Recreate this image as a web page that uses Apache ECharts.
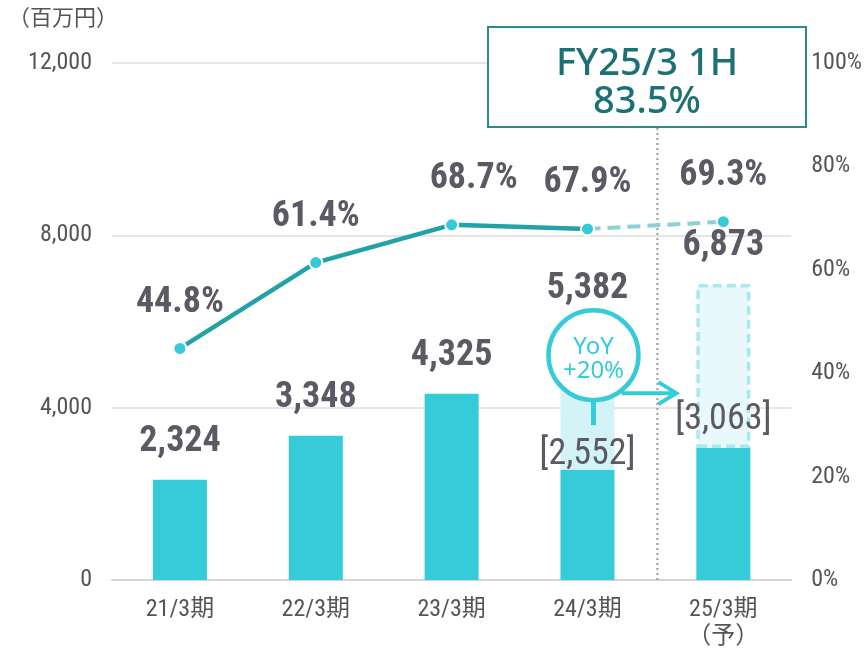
<!DOCTYPE html>
<html>
<head>
<meta charset="utf-8">
<script src="https://cdn.jsdelivr.net/npm/echarts@6/dist/echarts.min.js"></script>
<style>
  html, body { margin: 0; padding: 0; background: #fff; }
  #chart { width: 865px; height: 652px; }
</style>
</head>
<body>
<div id="chart"></div>
<script>
// data
const categories = ['21/3期', '22/3期', '23/3期', '24/3期', '25/3期\n（予）'];
const baseSales = [2324, 3348, 4325, 2552, 3063];     // solid bars (百万円)
const totalSales = [null, null, null, 5382, 6873];    // light / forecast bar tops
const ratioActual = [44.8, 61.4, 68.7, 67.9, null];   // %
const ratioForecast = [null, null, null, 67.9, 69.3];

const NUM_FONT = '"Roboto Condensed", "Noto Sans CJK JP", sans-serif';
const TXT = '#5b5964';
const CYAN = '#36cbd8';

const fmt = v => Number(v).toLocaleString('en-US');

const chart = echarts.init(document.getElementById('chart'));

// solid bar data with labels
const baseData = baseSales.map((v, i) => {
  if (totalSales[i] == null) {
    return { value: v, label: { show: true, position: 'top', distance: 20, formatter: fmt(v) } };
  }
  return {
    value: v,
    label: {
      show: true, position: 'top', distance: i === 3 ? -3 : 10,
      formatter: '[' + fmt(v) + ']', fontWeight: 'normal'
    }
  };
});

// upper part of the bars (total - base)
const upperData = totalSales.map((t, i) => {
  if (t == null) return null;
  const item = {
    value: t - baseSales[i],
    label: { show: true, position: 'top', distance: i === 3 ? 41 : 20, formatter: fmt(t) }
  };
  if (i === 3) {
    item.itemStyle = { color: '#d4f3f6' };
  } else {
    item.itemStyle = { color: '#e9f8fa', borderColor: '#a5eaf0', borderWidth: 3.5, borderType: [9, 5] };
  }
  return item;
});

const numLabel = { fontFamily: NUM_FONT, fontSize: 36, fontWeight: 'bold', color: TXT };

const option = {
  animation: false,
  grid: { left: 112, right: 70, top: 63, bottom: 72 },
  xAxis: {
    type: 'category',
    data: categories,
    axisTick: { show: false },
    axisLine: { lineStyle: { color: '#d4d4d4', width: 2 } },
    axisLabel: { fontFamily: NUM_FONT, fontSize: 24, color: '#555', margin: 16, lineHeight: 27 }
  },
  yAxis: [
    {
      type: 'value', min: 0, max: 12000, interval: 4000,
      axisLine: { show: false }, axisTick: { show: false },
      splitLine: { lineStyle: { color: '#dedede', width: 1.5 } },
      axisLabel: { fontFamily: NUM_FONT, fontSize: 24, color: '#555', margin: 20, formatter: v => fmt(v) }
    },
    {
      type: 'value', min: 0, max: 100, interval: 20, position: 'right',
      axisLine: { show: false }, axisTick: { show: false }, splitLine: { show: false },
      axisLabel: { fontFamily: NUM_FONT, fontSize: 24, color: '#555', margin: 20, formatter: '{value}%' }
    }
  ],
  series: [
    {
      name: 'base', type: 'bar', stack: 'sales', barWidth: 54,
      itemStyle: { color: CYAN },
      label: numLabel,
      data: baseData
    },
    {
      name: 'upper', type: 'bar', stack: 'sales', barWidth: 54,
      label: numLabel,
      data: upperData
    },
    {
      name: 'ratio', type: 'line', yAxisIndex: 1, z: 5,
      data: ratioActual,
      lineStyle: { color: '#22a2a6', width: 4.5 },
      symbol: 'circle', symbolSize: 13,
      itemStyle: { color: '#36c9d6', borderColor: '#fff', borderWidth: 2 },
      label: Object.assign({}, numLabel, {
        show: true, position: 'top', distance: 20, formatter: p => p.value + '%'
      }),
      labelLayout: p => p.dataIndex === 2 ? { dx: 22 } : {}
    },
    {
      name: 'ratioF', type: 'line', yAxisIndex: 1, z: 4,
      data: ratioForecast.map((v, i) => (i === 3 ? { value: v, symbol: 'none' } : v)),
      lineStyle: { color: '#8fd0d3', width: 4, type: [13, 7] },
      symbol: 'circle', symbolSize: 13,
      itemStyle: { color: '#36c9d6', borderColor: '#fff', borderWidth: 2 },
      label: Object.assign({}, numLabel, {
        show: true, position: 'top', distance: 20,
        formatter: p => (p.dataIndex === 4 ? p.value + '%' : '')
      })
    }
  ]
};

chart.setOption(option);

// annotations placed from axis coordinates
const p3 = chart.convertToPixel({ gridIndex: 0 }, [3, totalSales[3]]);
const p4 = chart.convertToPixel({ gridIndex: 0 }, [4, 0]);
const p0 = chart.convertToPixel({ gridIndex: 0 }, [3, 0]);
const divX = (p3[0] + p4[0]) / 2 + 2;
const cx = p3[0] + 6, cy = p3[1] + 7;

chart.setOption({
  graphic: [
    {
      type: 'text', left: 8, top: 6,
      style: { text: '（百万円）', fontSize: 22, fill: '#555', fontFamily: '"Noto Sans CJK JP", sans-serif' }
    },
    {
      type: 'line', z: 1,
      shape: { x1: divX, y1: 128, x2: divX, y2: p0[1] },
      style: { stroke: '#9a9a9a', lineWidth: 2, lineDash: [2, 3] }
    },
    {
      type: 'rect', z: 10,
      shape: { x: 488, y: 27, width: 318, height: 100 },
      style: { fill: '#fff', stroke: '#2b8a8a', lineWidth: 2 }
    },
    {
      type: 'text', z: 11, x: 647, y: 83,
      style: {
        text: 'FY25/3 1H\n83.5%', align: 'center', verticalAlign: 'middle',
        fontSize: 38, lineHeight: 38, fontWeight: 500, fill: '#1d7073',
        fontFamily: '"Noto Sans", "Lato", sans-serif'
      }
    },
    {
      type: 'line', z: 10,
      shape: { x1: cx, y1: cy + 45, x2: cx, y2: cy + 70 },
      style: { stroke: CYAN, lineWidth: 5 }
    },
    {
      type: 'line', z: 10,
      shape: { x1: cx + 28, y1: cy + 38, x2: p4[0] - 48, y2: cy + 38 },
      style: { stroke: CYAN, lineWidth: 4 }
    },
    {
      type: 'polyline', z: 10,
      shape: { points: [[p4[0] - 65, cy + 27], [p4[0] - 47, cy + 38], [p4[0] - 65, cy + 49]] },
      style: { stroke: CYAN, lineWidth: 4, fill: null }
    },
    {
      type: 'circle', z: 11,
      shape: { cx: cx, cy: cy, r: 45 },
      style: { fill: '#fff', stroke: CYAN, lineWidth: 4.5 }
    },
    {
      type: 'text', z: 12, x: cx, y: cy + 4,
      style: {
        text: 'YoY\n+20%', align: 'center', verticalAlign: 'middle',
        fontSize: 24, lineHeight: 24, fill: CYAN,
        fontFamily: '"Noto Sans", "Lato", sans-serif'
      }
    }
  ]
});

window.addEventListener('resize', function () {
  chart.resize();
});
</script>
</body>
</html>
